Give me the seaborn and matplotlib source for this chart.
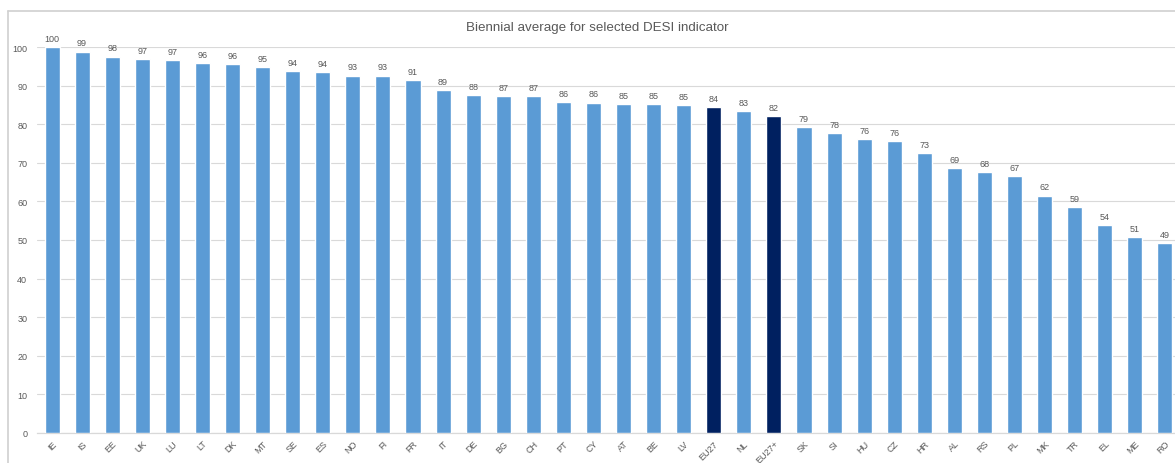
import matplotlib
matplotlib.use("Agg")
import matplotlib.pyplot as plt
import seaborn as sns
from matplotlib.lines import Line2D

countries = ["IE", "IS", "EE", "UK", "LU", "LT", "DK", "MT", "SE", "ES", "NO", "FI",
             "FR", "IT", "DE", "BG", "CH", "PT", "CY", "AT", "BE", "LV", "EU27", "NL",
             "EU27+", "SK", "SI", "HU", "CZ", "HR", "AL", "RS", "PL", "MK", "TR", "EL",
             "ME", "RO"]
scores = [100.0, 98.8, 97.5, 96.9, 96.6, 95.9, 95.6, 94.9, 93.8, 93.5, 92.6, 92.6,
          91.4, 88.9, 87.6, 87.3, 87.3, 85.8, 85.6, 85.3, 85.3, 85.0, 84.4, 83.3,
          82.1, 79.3, 77.8, 76.1, 75.7, 72.6, 68.7, 67.7, 66.6, 61.5, 58.6, 53.9,
          50.7, 49.2]
aggregates = ["EU27", "EU27+"]
yticks = list(range(0, 101, 10))

country_blue = "#5B9BD5"
aggregate_navy = "#002060"
text_grey = "#595959"
grid_grey = "#D9D9D9"

sns.set_theme(style="white")
plt.rcParams["font.family"] = ["Liberation Sans", "DejaVu Sans"]

fig = plt.figure(figsize=(11.75, 4.64), dpi=100)
ax = fig.add_axes([37 / 1175, 30 / 464, 1143 / 1175, 386 / 464])

palette = {c: (aggregate_navy if c in aggregates else country_blue) for c in countries}
sns.barplot(x=countries, y=scores, hue=countries, palette=palette, legend=False,
            width=0.5, saturation=1, ax=ax, zorder=3)

for cont in ax.containers:
    ax.bar_label(cont, fmt="%.0f", padding=3, fontsize=6.5, color=text_grey)

ax.set_ylim(0, 100)
ax.set_xlim(-0.5, len(countries) - 0.5)
ax.set_yticks(yticks)
ax.yaxis.grid(True, color=grid_grey, linewidth=0.8, zorder=0)
ax.xaxis.grid(False)
for side in ["left", "right", "top"]:
    ax.spines[side].set_visible(False)
ax.spines["bottom"].set_color(grid_grey)
ax.spines["bottom"].set_linewidth(0.9)
ax.tick_params(axis="y", labelsize=6.5, labelcolor=text_grey, length=0, pad=7)
ax.tick_params(axis="x", labelsize=6.5, labelcolor=text_grey, length=0, pad=4)
plt.setp(ax.get_xticklabels(), rotation=45, ha="right", rotation_mode="anchor")

fig.text(597 / 1175, 1 - 28 / 464, "Biennial average for selected DESI indicator",
         ha="center", va="center", fontsize=9.6, color=text_grey)

# chart-area frame
fig.add_artist(Line2D([8 / 1175, 1], [1 - 12 / 464] * 2, color="#D0D0D0", lw=1.2,
                      transform=fig.transFigure))
fig.add_artist(Line2D([8 / 1175] * 2, [0, 1 - 12 / 464], color="#D0D0D0", lw=1.2,
                      transform=fig.transFigure))

fig.savefig("out.png", dpi=100, facecolor="white")
